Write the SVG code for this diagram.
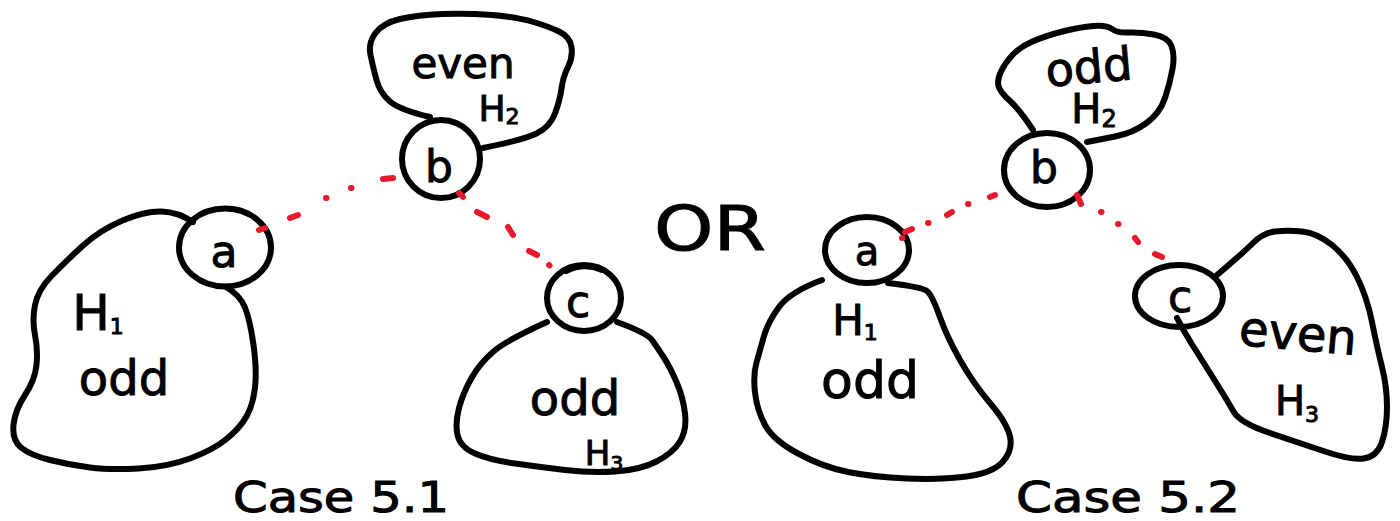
<svg xmlns="http://www.w3.org/2000/svg" width="1400" height="521" viewBox="0 0 1400 521">
<style>
.o{fill:none;stroke:#000;stroke-width:6;stroke-linecap:round;stroke-linejoin:round}
.t{font-family:"DejaVu Sans","Liberation Sans",sans-serif;fill:#000;stroke:#000;stroke-width:1;text-anchor:middle}
.r{stroke:#e8192c;stroke-width:6;stroke-linecap:round;fill:none}
</style>
<rect width="1400" height="521" fill="#fff"/>
<g id="H1-left">
<path class="o" d="M193,222 Q178,212 161.5,211.5 Q145,211 122.5,220.5 Q100,230 82.5,246 Q65,262 51.5,276 Q38,290 35,305 Q32,320 35,335 Q38,350 36.5,365 Q35,380 25,395 Q15,410 13.5,425 Q12,440 21,447.5 Q30,455 50,460 Q70,465 90,467.5 Q110,470 138.5,468.5 Q167,467 190,458.5 Q213,450 226.5,439 Q240,428 246.5,416.5 Q253,405 255,387.5 Q257,370 253.5,345 Q250,320 245,307.5 Q240,295 226,287"/>
<text class="t" x="98" y="330" font-size="50">H<tspan font-size="22" dy="4">1</tspan></text>
<text class="t" x="124" y="395" font-size="48">odd</text>
</g>
<g id="a-left">
<ellipse class="o" cx="225" cy="247.5" rx="46" ry="39"/>
<text class="t" x="224" y="267" font-size="44">a</text>
</g>
<g id="H2-left">
<path class="o" d="M430,117 Q400,110 390,101.5 Q380,93 376.5,80 Q373,67 370.5,55 Q368,43 375.5,33 Q383,23 400,19 Q417,15 442,14 Q467,13 492,15 Q517,17 533.5,22 Q550,27 560,32 Q570,37 571.5,47 Q573,57 568,67 Q563,77 561.5,88.5 Q560,100 555,113.5 Q550,127 536.5,133.5 Q523,140 483,148"/>
<text class="t" x="463" y="78" font-size="42">even</text>
<text class="t" x="499" y="121" font-size="36">H<tspan font-size="22" dy="3">2</tspan></text>
</g>
<g id="b-left">
<circle class="o" cx="441" cy="159" r="39"/>
<text class="t" x="439" y="182" font-size="44">b</text>
</g>
<g id="H3-left">
<path class="o" d="M547,322 Q507,340 493.5,351.5 Q480,363 471.5,378 Q463,393 459,408 Q455,423 457.5,435 Q460,447 475,453.5 Q490,460 515,463.5 Q540,467 565,470 Q590,473 615,471.5 Q640,470 656.5,461.5 Q673,453 680,441.5 Q687,430 685,413.5 Q683,397 676.5,382 Q670,367 663.5,357 Q657,347 652,340 Q647,333 617,322"/>
<text class="t" x="575" y="415" font-size="48">odd</text>
<text class="t" x="604" y="465" font-size="34">H<tspan font-size="20" dy="5">3</tspan></text>
</g>
<g id="c-left">
<ellipse class="o" cx="584" cy="298" rx="37" ry="33"/>
<path class="o" d="M566,271 Q584,262 602,270" stroke-width="9"/>
<text class="t" x="578" y="317" font-size="44">c</text>
</g>
<g id="H1-right">
<path class="o" d="M822,280 Q790,292 779,307 Q768,322 764,336 Q760,350 756.5,362.5 Q753,375 755,392.5 Q757,410 765,425 Q773,440 798,453.5 Q823,467 848,472 Q873,477 906.5,478.5 Q940,480 966.5,476.5 Q993,473 1003,461.5 Q1013,450 1010,436.5 Q1007,423 990,403 Q973,383 960,360 Q947,337 939.5,316 Q932,295 927,291 Q922,287 888,283"/>
<text class="t" x="855" y="335" font-size="42">H<tspan font-size="22" dy="5">1</tspan></text>
<text class="t" x="870" y="398" font-size="52">odd</text>
</g>
<g id="a-right">
<ellipse class="o" cx="867" cy="250" rx="42" ry="33"/>
<text class="t" x="867" y="265" font-size="40">a</text>
</g>
<g id="H2-right">
<path class="o" d="M1033,130 Q1020,110 1010,101 Q1000,92 998.5,86 Q997,80 1001,71.5 Q1005,63 1012.5,55 Q1020,47 1032.5,41.5 Q1045,36 1062.5,31.5 Q1080,27 1093.5,26 Q1107,25 1112,29 Q1117,33 1128.5,32.5 Q1140,32 1154,34.5 Q1168,37 1171.5,46 Q1175,55 1172.5,69 Q1170,83 1165,98 Q1160,113 1146.5,123 Q1133,133 1115,136.5 Q1097,140 1087,142"/>
<text class="t" x="1089" y="83" font-size="46" transform="rotate(-5 1089 70)">odd</text>
<text class="t" x="1094" y="123" font-size="40">H<tspan font-size="24" dy="4">2</tspan></text>
</g>
<g id="b-right">
<ellipse class="o" cx="1047" cy="170" rx="43" ry="37"/>
<text class="t" x="1044" y="183" font-size="44">b</text>
</g>
<g id="H3-right">
<path class="o" d="M1217,275 Q1243,253 1253,243 Q1263,233 1275,231.5 Q1287,230 1302,231.5 Q1317,233 1332,245 Q1347,257 1357,277 Q1367,297 1372,322 Q1377,347 1382,367 Q1387,387 1387,407 Q1387,427 1382,442 Q1377,457 1363.5,458.5 Q1350,460 1325,451.5 Q1300,443 1270,433 Q1240,423 1233.5,411.5 Q1227,400 1213.5,378.5 Q1200,357 1191.5,343.5 Q1183,330 1177,318"/>
<text class="t" x="1298" y="350" font-size="48" transform="rotate(5 1298 335)">even</text>
<text class="t" x="1297" y="415" font-size="40">H<tspan font-size="22" dy="7">3</tspan></text>
</g>
<g id="c-right">
<ellipse class="o" cx="1179" cy="296" rx="44" ry="31"/>
<text class="t" x="1180" y="312" font-size="44">c</text>
</g>
<g id="labels">
<text class="t" x="710" y="250" font-size="62" textLength="112" lengthAdjust="spacingAndGlyphs">OR</text>
<text class="t" x="341" y="512" font-size="42" textLength="216" lengthAdjust="spacingAndGlyphs">Case 5.1</text>
<text class="t" x="1128" y="512" font-size="42" textLength="224" lengthAdjust="spacingAndGlyphs">Case 5.2</text>
</g>
<g id="connectors">
<path class="r" d="M259,230 L265,228 M290,218 L298,215 M326,198 L326.5,198 M351,188 L351.5,188 M383,179 L393,178 M459,193 L463,197 M477,212 L487,217 M508,227 L513,235 M529,251 L537,255 M549,265 L549.5,265.5"/>
<path class="r" d="M902,238 L902.5,238 M905,232 L912,229 M928,223 L928.5,223 M947,215 L952,212 M968,204 L968.5,204 M990,197 L995,195 M1077,195 L1081,204 M1101,212 L1101.5,212 M1118,224 L1118.5,224 M1135,238 L1138,242 M1155,254 L1162,257"/>
</g>
</svg>
